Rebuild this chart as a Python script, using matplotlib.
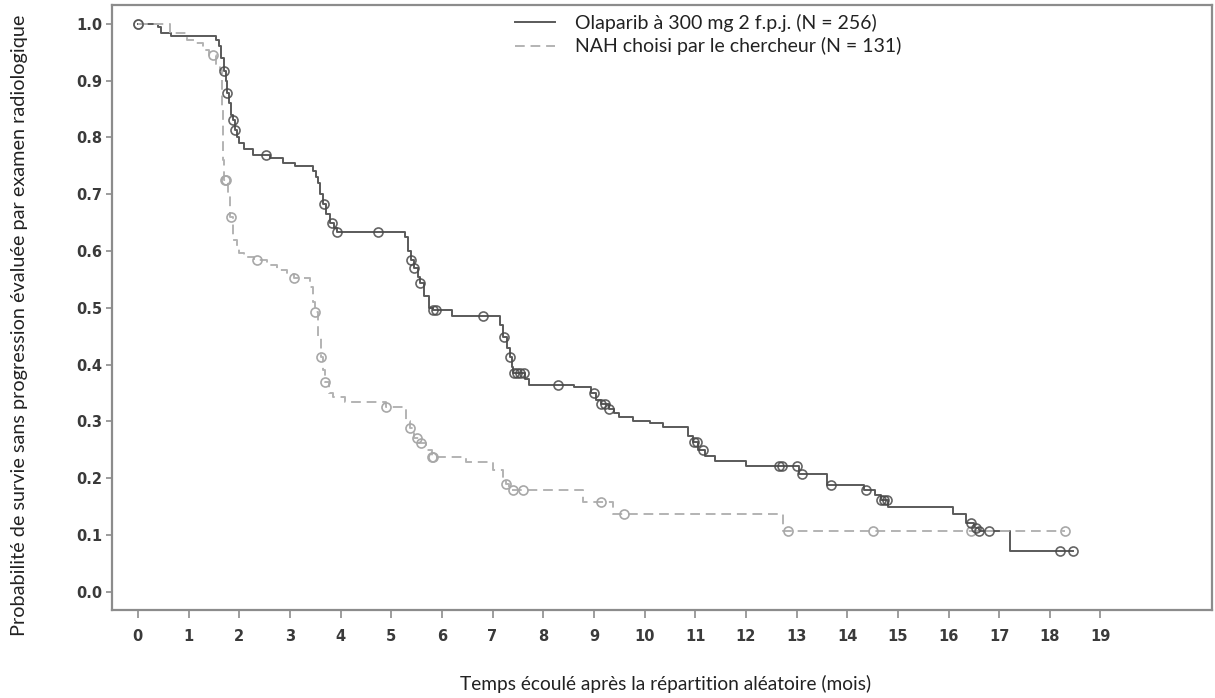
import numpy as np
import matplotlib
matplotlib.use("Agg")
import matplotlib.pyplot as plt

# ---- data ----
ola_t = [0, 0.40, 0.45, 0.65, 1.55, 1.60, 1.65, 1.70, 1.73, 1.76, 1.80, 1.84, 1.87, 1.91, 1.95,
         2.00, 2.10, 2.27, 2.60, 2.86, 3.10, 3.45, 3.52, 3.55, 3.60, 3.65, 3.72, 3.80, 3.88, 3.93,
         5.27, 5.33, 5.40, 5.45, 5.52, 5.56, 5.65, 5.75, 5.83, 6.20, 7.14, 7.20, 7.28, 7.34, 7.38,
         7.40, 7.65, 7.72, 8.60, 8.95, 9.05, 9.15, 9.30, 9.40, 9.50, 9.77, 10.10, 10.36, 10.85,
         10.95, 11.05, 11.20, 11.40, 12.00, 13.05, 13.60, 14.34, 14.55, 14.67, 14.80, 16.08, 16.35,
         16.50, 16.60, 17.22, 18.46]
ola_s = [1.0, 0.995, 0.984, 0.979, 0.972, 0.96, 0.94, 0.916, 0.90, 0.879, 0.86, 0.84, 0.831, 0.813, 0.80,
         0.79, 0.78, 0.769, 0.763, 0.755, 0.75, 0.74, 0.73, 0.72, 0.70, 0.683, 0.665, 0.65, 0.64, 0.634,
         0.625, 0.60, 0.585, 0.57, 0.555, 0.544, 0.52, 0.50, 0.496, 0.485, 0.47, 0.449, 0.43, 0.414, 0.395,
         0.385, 0.375, 0.365, 0.36, 0.35, 0.338, 0.33, 0.322, 0.315, 0.308, 0.30, 0.297, 0.29, 0.275,
         0.264, 0.25, 0.24, 0.23, 0.222, 0.208, 0.188, 0.18, 0.17, 0.162, 0.15, 0.137, 0.121,
         0.113, 0.107, 0.072, 0.072]
ola_cens = [0, 1.70, 1.76, 1.87, 1.91, 2.52, 3.67, 3.83, 3.93, 4.73, 5.40, 5.45, 5.56, 5.83, 5.88,
            6.81, 7.22, 7.34, 7.42, 7.48, 7.55, 7.62, 8.30, 9.00, 9.15, 9.22, 9.30, 10.97, 11.03,
            11.15, 12.66, 12.72, 13.00, 13.10, 13.68, 14.38, 14.67, 14.72, 14.78, 16.45, 16.55,
            16.60, 16.80, 18.20, 18.46]

nah_t = [0, 0.63, 0.96, 1.10, 1.28, 1.40, 1.55, 1.62, 1.66, 1.68, 1.70, 1.78, 1.82, 1.87, 1.95,
         2.00, 2.10, 2.30, 2.55, 2.74, 2.95, 3.08, 3.40, 3.45, 3.49, 3.55, 3.62, 3.66, 3.69, 3.78,
         3.85, 4.08, 4.89, 5.30, 5.37, 5.45, 5.55, 5.68, 5.80, 6.48, 7.00, 7.20, 7.27, 7.32, 8.78,
         9.37, 12.74, 18.30]
nah_s = [1.0, 0.984, 0.972, 0.966, 0.954, 0.945, 0.93, 0.919, 0.85, 0.76, 0.725, 0.70, 0.66, 0.62, 0.605,
         0.597, 0.59, 0.585, 0.575, 0.567, 0.56, 0.553, 0.537, 0.51, 0.493, 0.45, 0.413, 0.39, 0.37, 0.35,
         0.343, 0.335, 0.326, 0.30, 0.289, 0.271, 0.262, 0.25, 0.238, 0.229, 0.215, 0.20, 0.19, 0.18, 0.159,
         0.137, 0.108, 0.108]
nah_cens = [0, 1.48, 1.72, 1.74, 1.83, 2.35, 3.08, 3.49, 3.62, 3.69, 4.89, 5.37, 5.50, 5.58, 5.80,
            5.83, 7.27, 7.40, 7.60, 9.15, 9.60, 12.83, 14.50, 16.45, 18.30]

labels = ["Olaparib à 300 mg 2 f.p.j. (N = 256)", "NAH choisi par le chercheur (N = 131)"]
xticks = list(range(0, 20))
yticks = [round(0.1 * i, 1) for i in range(11)]


def step_value(t_arr, s_arr, t):
    idx = np.searchsorted(np.asarray(t_arr), t, side="right") - 1
    return np.asarray(s_arr)[idx]


fig = plt.figure(figsize=(12.15, 6.98), dpi=100)
ax = fig.add_axes([0.0922, 0.126, 0.9053, 0.8668])

ola_col = "#5a5a5a"
nah_col = "#b3b3b3"

ax.plot(ola_t, ola_s, drawstyle="steps-post", color=ola_col, lw=1.4, label=labels[0])
ax.plot(nah_t, nah_s, drawstyle="steps-post", color=nah_col, lw=1.4, dashes=(5, 3), label=labels[1])

ax.plot(nah_cens, step_value(nah_t, nah_s, nah_cens), ls="none", marker="o", ms=6.5,
        mfc="none", mec="#a8a8a8", mew=1.2)
ax.plot(ola_cens, step_value(ola_t, ola_s, ola_cens), ls="none", marker="o", ms=6.5,
        mfc="none", mec="#4a4a4a", mew=1.2, alpha=0.85)

ax.set_xlim(-0.51, 21.2)
ax.set_ylim(-0.032, 1.033)
ax.set_xticks(xticks)
ax.set_xticklabels([str(x) for x in xticks])
ax.set_yticks(yticks)
ax.set_yticklabels([f"{y:.1f}" for y in yticks])

for sp in ax.spines.values():
    sp.set_color("#8c8c8c")
    sp.set_linewidth(1.6)

ax.tick_params(axis="both", colors="#8c8c8c", length=6, width=1.2, labelcolor="#3a3a3a",
               labelsize=10.5)
ax.tick_params(axis="x", pad=8)
ax.tick_params(axis="y", pad=3, length=4)
for lab in ax.get_xticklabels() + ax.get_yticklabels():
    lab.set_fontweight("bold")

ax.set_xlabel("Temps écoulé après la répartition aléatoire (mois)", family="Lato",
              fontsize=13.8, color="#222222")
ax.xaxis.set_label_coords(0.503, -0.108)
ax.set_ylabel("Probabilité de survie sans progression évaluée par examen radiologique",
              family="Lato", fontsize=14.3, color="#222222")
ax.yaxis.set_label_coords(-0.076, 0.47)

leg = ax.legend(loc="upper left", bbox_to_anchor=(0.366, 0.986), frameon=False,
                prop={"family": "Lato", "size": 14}, handlelength=2.06, handletextpad=1.03,
                labelspacing=0.3, borderpad=0, borderaxespad=0)
for txt in leg.get_texts():
    txt.set_color("#222222")

fig.savefig("out.png", dpi=100)
